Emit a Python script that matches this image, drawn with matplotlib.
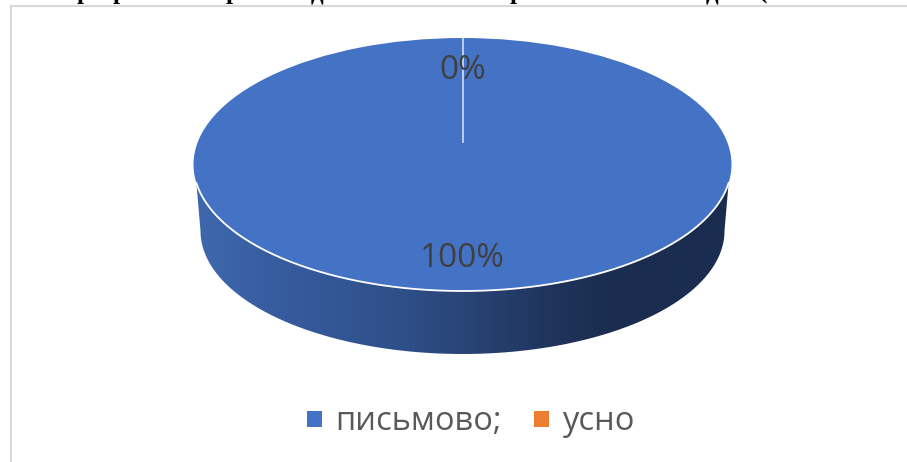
import matplotlib
matplotlib.use("Agg")

import matplotlib.pyplot as plt
import numpy as np
from matplotlib.colors import LinearSegmentedColormap, to_rgb
from matplotlib.patches import Patch, PathPatch
from matplotlib.path import Path

W, H = 907, 462

labels = ["письмово;", "усно"]
values = [100, 0]
colors = ["#4472C4", "#ED7D31"]

# cut off heading above the chart, only the bottoms of these letters show
heading_chars = ["р", "р", "р", "д", "р", "д", "("]
heading_x = [84, 120, 233, 317, 517, 712, 763]

# pie geometry in picture pixels
TOP_CX, TOP_CY, TOP_RX, TOP_RY = 462.5, 164.5, 269, 126.5
BOT_CX, BOT_CY, BOT_RX, BOT_RY = 462.5, 231, 262, 123
RIM_Y = 183
SPOKE_END_Y = 142

side_stops = [
    (0.0, "#3E68AE"),
    (0.2, "#35599B"),
    (0.4, "#2E4E87"),
    (0.55, "#27406F"),
    (0.68, "#1F3359"),
    (0.78, "#1A2D50"),
    (1.0, "#1A2D50"),
]

plt.rcParams["font.family"] = ["Open Sans", "DejaVu Sans"]

fig = plt.figure(figsize=(W / 100, H / 100), dpi=100, facecolor="white")

# background axes in pixel coordinates
bg = fig.add_axes([0, 0, 1, 1])
bg.axis("off")

# chart frame, only top and left are in the crop
bg.plot([W, 11, 11], [5.5, 5.5, H], color="#D9D9D9", lw=1.5, solid_joinstyle="miter")

for ch, x in zip(heading_chars, heading_x):
    bg.text(x, -1, ch, family=["Liberation Serif"], weight="bold", fontsize=18,
            color="black", ha="center", va="baseline", clip_on=True)

# pie side: gradient clipped to the outline of the lower ellipse
rim_t = np.arcsin((RIM_Y - TOP_CY) / TOP_RY)
t = np.linspace(np.pi, 0, 200)
side_x = np.concatenate([[TOP_CX - TOP_RX * np.cos(rim_t)], BOT_CX + BOT_RX * np.cos(t),
                         [TOP_CX + TOP_RX * np.cos(rim_t)]])
side_y = np.concatenate([[RIM_Y], BOT_CY + BOT_RY * np.sin(t), [RIM_Y]])
side_path = Path(np.column_stack([side_x, side_y]))
side_patch = PathPatch(side_path, facecolor="none", edgecolor="none", transform=bg.transData)
bg.add_patch(side_patch)

cmap = LinearSegmentedColormap.from_list(
    "side", [(p, to_rgb(c)) for p, c in side_stops], N=256
)
grad = bg.imshow(
    np.linspace(0, 1, 256).reshape(1, -1),
    cmap=cmap,
    aspect="auto",
    extent=[TOP_CX - TOP_RX, TOP_CX + TOP_RX, H, 0],
)
grad.set_clip_path(side_patch)

handles = [Patch(facecolor=c, edgecolor="none", label=l) for c, l in zip(colors, labels)]
bg.legend(
    handles=handles,
    loc="center",
    bbox_to_anchor=(471, 422),
    bbox_transform=bg.transData,
    ncol=2,
    frameon=False,
    fontsize=23.5,
    labelcolor="#595959",
    handlelength=0.46,
    handleheight=0.4,
    handletextpad=0.4,
    columnspacing=1.0,
    borderpad=0,
    borderaxespad=0,
)

bg.set_xlim(0, W)
bg.set_ylim(H, 0)

# pie top: stretched to the ellipse by its own axes
ax = fig.add_axes([
    (TOP_CX - TOP_RX) / W,
    1 - (TOP_CY + TOP_RY) / H,
    2 * TOP_RX / W,
    2 * TOP_RY / H,
])
wedges, _, pct = ax.pie(
    values,
    colors=colors,
    startangle=90,
    counterclock=False,
    autopct="%.0f%%",
    pctdistance=0.74,
    wedgeprops={"linewidth": 0},
    textprops={"fontsize": 24, "color": "#404040"},
)
ax.set_aspect("auto")
ax.set_xlim(-1, 1)
ax.set_ylim(-1, 1)
ax.axis("off")

# white rim along the front edge and the spoke of the 0% slice
arc = np.linspace(-rim_t, -np.pi + rim_t, 200)
ax.plot(np.cos(arc), np.sin(arc), color="white", lw=1.3, clip_on=False)
ax.plot([0, 0], [(TOP_CY - SPOKE_END_Y) / TOP_RY, 1], color="#D5DFEF", lw=1.2)

fig.savefig("out.png", dpi=100)
plt.close(fig)
